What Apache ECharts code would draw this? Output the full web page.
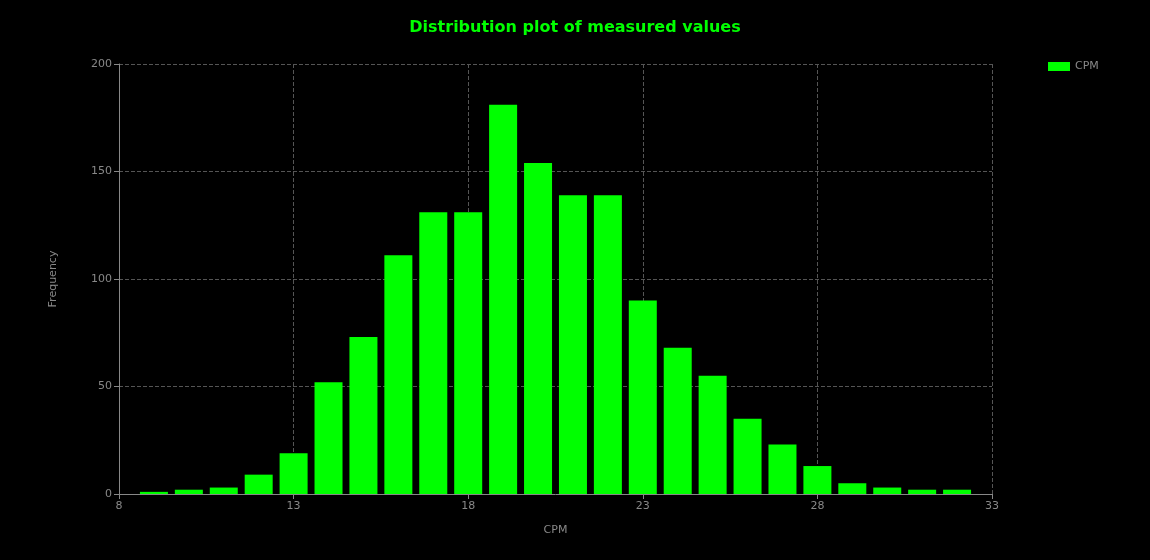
<!DOCTYPE html>
<html>
<head>
<meta charset="utf-8">
<style>
  html, body { margin: 0; padding: 0; background: #000; }
  #chart { width: 1150px; height: 560px; }
</style>
<script src="https://cdn.jsdelivr.net/npm/echarts@6/dist/echarts.min.js"></script>
</head>
<body>
<div id="chart"></div>
<script>
// histogram bins (CPM value) and their counts
const cpm_bins = [9, 10, 11, 12, 13, 14, 15, 16, 17, 18, 19, 20, 21, 22, 23, 24, 25, 26, 27, 28, 29, 30, 31, 32];
const frequency = [1, 2, 3, 9, 19, 52, 73, 111, 131, 131, 181, 154, 139, 139, 90, 68, 55, 35, 23, 13, 5, 3, 2, 2];

var chart = echarts.init(document.getElementById("chart"));

const axisGray = '#888';
const gridGray = '#555';
const font = 'DejaVu Sans, Verdana, sans-serif';

var option = {
    backgroundColor: '#000',
    title: {
        text: 'Distribution plot of measured values',
        left: 'center',
        top: 15,
        textStyle: { color: '#00ff00', fontSize: 16, fontWeight: 'bold', fontFamily: font }
    },
    legend: {
        data: ['CPM'],
        left: 1043,
        top: 56,
        icon: 'rect',
        itemWidth: 22,
        itemHeight: 9,
        itemGap: 5,
        textStyle: { color: axisGray, fontSize: 11, fontFamily: font }
    },
    grid: { left: 119, right: 158, top: 64, bottom: 66 },
    xAxis: {
        type: 'value',
        min: 8,
        max: 33,
        interval: 5,
        name: 'CPM',
        nameLocation: 'middle',
        nameGap: 31,
        nameTextStyle: { color: axisGray, fontSize: 11, fontFamily: font },
        axisLine: { lineStyle: { color: axisGray } },
        axisTick: { show: true, length: 5, lineStyle: { color: axisGray } },
        axisLabel: { color: axisGray, fontSize: 11, fontFamily: font, margin: 7 },
        splitLine: { show: true, lineStyle: { color: gridGray, type: 'dashed' } }
    },
    yAxis: {
        type: 'value',
        min: 0,
        max: 200,
        interval: 50,
        name: 'Frequency',
        nameLocation: 'middle',
        nameGap: 60,
        nameTextStyle: { color: axisGray, fontSize: 11, fontFamily: font },
        axisLine: { show: true, lineStyle: { color: axisGray } },
        axisTick: { show: true, length: 5, lineStyle: { color: axisGray } },
        axisLabel: { color: axisGray, fontSize: 11, fontFamily: font, margin: 7 },
        splitLine: { show: true, lineStyle: { color: gridGray, type: 'dashed' } }
    },
    series: [
        {
            name: 'CPM',
            type: 'bar',
            barWidth: 28,
            itemStyle: { color: '#00ff00' },
            data: cpm_bins.map((x, i) => [x, frequency[i]])
        }
    ]
};

chart.setOption(option);
</script>
</body>
</html>
